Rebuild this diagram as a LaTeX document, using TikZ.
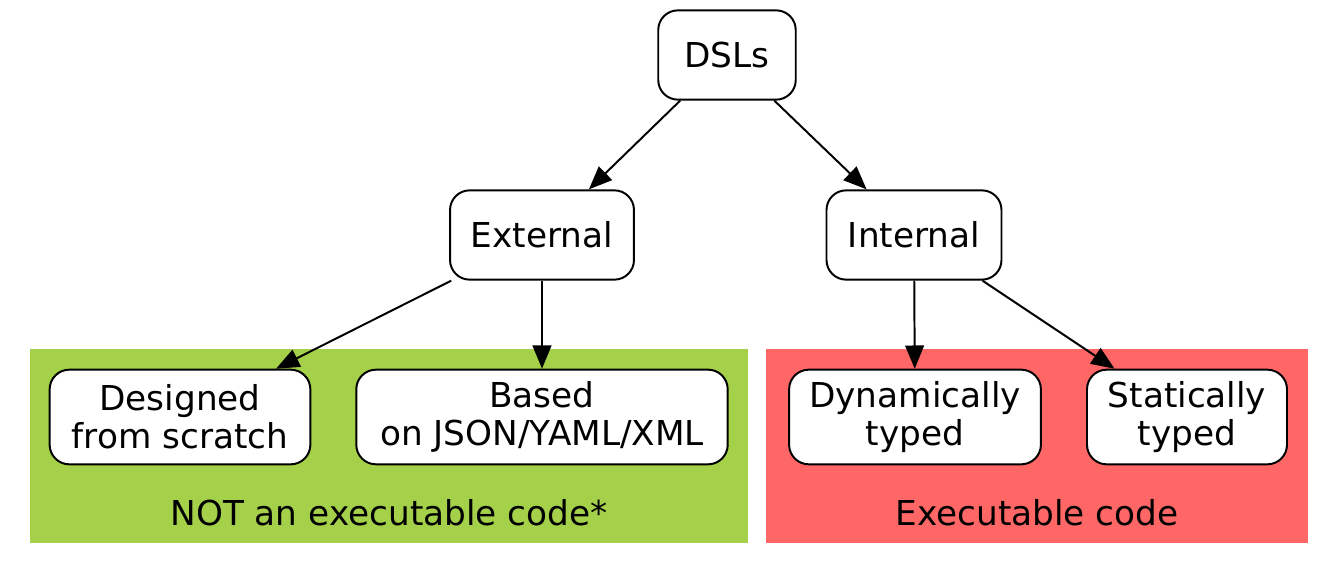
\documentclass[tikz,border=0pt]{standalone}
\usepackage{fontspec}
\setmainfont{DejaVu Sans}
\usetikzlibrary{arrows.meta}
\definecolor{clustergreen}{HTML}{A4D04A}
\definecolor{clusterred}{HTML}{FF6666}

\begin{document}
\begin{tikzpicture}[
            x = 0.56pt, y = -0.56pt,
            every node/.style={font=\fontsize{19.2}{21.2}\selectfont, align=center},
            box/.style={draw, fill=white, rounded corners=11pt, line width=1.1pt, inner sep=0pt},
            cluster/.style={inner sep=0pt, minimum height=194*0.56pt},
            line/.style={line width=1.1pt, -{Triangle[length=13pt, width=10.5pt]}},
            ]

        \useasboundingbox (0, 0) rectangle (1338, 573);

        % clusters
        \node[cluster, fill=clustergreen, minimum width=718*0.56pt] (notexec) at (389, 446) {};
        \node[cluster, fill=clusterred, minimum width=542*0.56pt] (exec) at (1037, 446) {};
        \node (notexeclabel) at (389, 513) {NOT an executable code*};
        \node (execlabel) at (1037, 513) {Executable code};

        % nodes
        \node[box, minimum width=77pt, minimum height=50pt] (dsl) at (727, 55) {DSLs};
        \node[box, minimum width=103pt, minimum height=50pt] (ext) at (542, 235) {External};
        \node[box, minimum width=98pt, minimum height=50pt] (int) at (914, 235) {Internal};
        \node[box, minimum width=146pt, minimum height=53pt] (scratch) at (180, 417) {Designed\\from scratch};
        \node[box, minimum width=208pt, minimum height=53pt] (based) at (542, 417) {Based\\on JSON/YAML/XML};
        \node[box, minimum width=141pt, minimum height=53pt] (dyn) at (915, 417) {Dynamically\\typed};
        \node[box, minimum width=112pt, minimum height=53pt] (stat) at (1187, 417) {Statically\\typed};

        \draw[line] (dsl) -- (ext);
        \draw[line] (dsl) -- (int);
        \draw[line] (ext) -- (scratch);
        \draw[line] (ext) -- (based);
        \draw[line] (int) -- (dyn);
        \draw[line] (int) -- (stat);
    \end{tikzpicture}
\end{document}
